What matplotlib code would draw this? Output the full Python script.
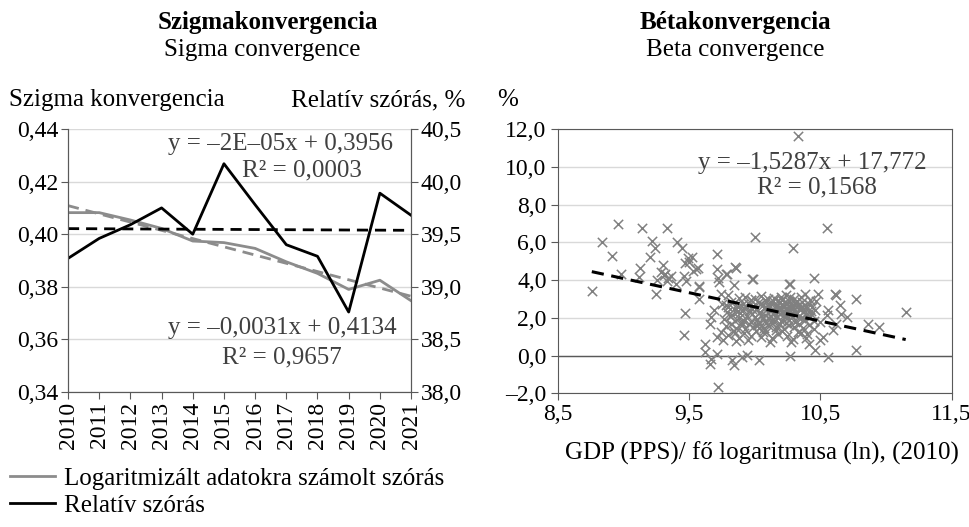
import numpy as np
import matplotlib
matplotlib.use("Agg")
import matplotlib.pyplot as plt
from matplotlib.ticker import FuncFormatter

plt.rcParams['font.family'] = ['Liberation Serif', 'DejaVu Serif']

# --- sigma convergence data ---
years = [2010, 2011, 2012, 2013, 2014, 2015, 2016, 2017, 2018, 2019, 2020, 2021]
log_std = [0.4082, 0.4082, 0.4054, 0.4022, 0.3974, 0.3968, 0.3946, 0.3895, 0.3851, 0.3790, 0.3825, 0.3747]
rel_std = [39.27, 39.46, 39.59, 39.75, 39.50, 40.17, 39.78, 39.40, 39.29, 38.76, 39.89, 39.68]

# --- beta convergence data (estimated from the scatter) ---
gdp_ln = [
    8.76, 8.84, 8.91, 8.96, 8.98, 9.14, 9.13, 9.12, 9.22, 9.20, 9.24, 9.25, 9.26, 9.33, 9.30, 9.29,
    9.31, 9.32, 9.34, 9.36, 9.33, 9.41, 9.45, 9.40, 9.46, 9.47, 9.49, 9.50, 9.52, 9.53, 9.55, 9.57,
    9.58, 9.58, 9.47, 9.46, 9.48, 9.71, 9.71, 9.73, 9.78, 9.86, 9.84, 10.00, 9.99, 10.33, 10.29, 10.27,
    10.55, 10.45, 10.62, 10.77, 10.86, 10.95, 11.15, 10.77, 10.56, 10.27, 10.03, 9.94, 9.90, 9.83,
    9.84, 9.72, 9.67, 9.66, 9.62, 9.62, 9.71, 9.76, 9.71, 9.74, 9.66, 9.67, 9.69, 9.75, 9.74, 9.72,
    9.79, 9.85, 9.98, 9.58,
    10.26, 10.48, 10.61, 10.65, 10.66, 10.70, 10.56, 10.55, 10.50, 10.62, 10.60, 10.52, 10.45, 10.40,
    10.33, 10.29, 10.28, 10.41, 10.50, 10.46,
    9.88, 9.93, 9.97, 10.05, 10.10, 10.15, 10.20, 10.24, 10.30, 10.35, 10.38, 10.42, 9.80, 10.00, 10.18, 10.27,
    9.78, 9.82, 9.87, 9.91, 9.95, 9.99, 10.03, 10.06, 10.09, 10.12, 10.14, 10.17, 10.19, 10.22, 10.24, 10.26,
    10.28, 10.31, 10.33, 10.36, 10.39, 10.41, 10.44, 10.47, 10.08, 10.21,
    9.79, 9.84, 9.89, 9.92, 9.96, 9.98, 10.01, 10.04, 10.07, 10.10, 10.13, 10.16, 10.18, 10.20, 10.23, 10.25,
    10.27, 10.29, 10.32, 10.34, 10.37, 10.40, 10.43, 10.46, 10.11, 10.22, 10.30, 10.19,
    9.77, 9.81, 9.85, 9.88, 9.91, 9.94, 9.97, 10.00, 10.02, 10.05, 10.08, 10.11, 10.14, 10.17, 10.20, 10.23,
    10.26, 10.28, 10.31, 10.35, 10.38, 10.42, 10.45, 10.15, 10.06, 10.25,
    9.78, 9.82, 9.86, 9.90, 9.93, 9.96, 9.99, 10.03, 10.07, 10.10, 10.13, 10.16, 10.19, 10.22, 10.26, 10.30,
    10.34, 10.37, 10.41, 10.24,
    9.80, 9.84, 9.88, 9.92, 9.97, 10.01, 10.05, 10.09, 10.13, 10.18, 10.21, 10.25, 10.35, 10.39,
    9.86, 9.95, 10.12,
    9.80, 9.83, 9.87, 9.90, 9.94, 9.98, 10.02, 10.04, 10.08, 10.12, 10.15, 10.18, 10.21, 10.24, 10.27, 10.30,
    10.33, 10.36, 10.39, 10.43, 9.85, 9.91, 9.97, 10.03, 10.09, 10.14, 10.19, 10.23, 10.28, 10.32,
    10.36, 10.40, 10.06, 10.16, 10.26,
]
growth = [
    3.45, 6.03, 5.29, 6.96, 4.30, 6.74, 4.62, 4.15, 6.09, 5.24, 5.68, 3.26, 4.00, 6.74, 4.80, 4.45,
    4.25, 4.35, 4.10, 4.20, 3.95, 6.03, 5.68, 3.80, 4.20, 4.90, 5.20, 4.95, 5.25, 4.50, 4.60, 4.65,
    3.70, 3.00, 2.28, 1.08, 3.95, 5.38, 4.60, 3.91, 4.35, 4.67, 3.73, 6.27, 4.06, 11.65, 5.68, 3.80,
    6.74, 4.12, 3.20, 3.00, 1.70, 1.50, 2.30, 0.30, -0.05, 0.00, -0.25, 0.02, -0.07, -0.25,
    -0.51, -1.67, -0.16, -0.42, 0.20, 0.64, 0.10, 0.81, 0.99, 1.25, 1.70, 2.05, 2.40, 2.76, 3.29, 4.09,
    4.35, 4.70, 4.04, 3.64,
    3.82, 3.29, 3.24, 2.67, 2.23, 2.05, 2.41, 2.14, 1.78, 1.70, 1.34, 0.99, 1.43, 1.17,
    1.25, 0.90, 0.72, 0.64, 0.81, 0.28,
    3.05, 3.10, 2.95, 3.15, 3.00, 3.05, 3.10, 3.20, 3.00, 3.10, 3.25, 2.95, 3.20, 2.98, 2.92, 3.12,
    2.70, 2.85, 2.60, 2.75, 2.80, 2.65, 2.85, 2.70, 2.60, 2.80, 2.90, 2.70, 2.85, 2.65, 2.75, 2.90,
    2.60, 2.80, 2.70, 2.85, 2.65, 2.75, 2.60, 2.90, 2.95, 2.95,
    2.30, 2.45, 2.25, 2.50, 2.35, 2.20, 2.45, 2.30, 2.50, 2.25, 2.40, 2.55, 2.30, 2.45, 2.20, 2.50,
    2.35, 2.55, 2.25, 2.45, 2.30, 2.50, 2.20, 2.40, 2.55, 2.35, 2.40, 2.20,
    1.95, 2.10, 1.85, 2.00, 1.90, 2.10, 1.80, 2.05, 1.90, 2.15, 1.85, 2.00, 1.95, 2.10, 1.85, 2.05,
    1.90, 2.15, 1.80, 2.00, 1.90, 2.05, 1.85, 1.80, 2.00, 2.00,
    1.55, 1.70, 1.45, 1.60, 1.40, 1.65, 1.50, 1.70, 1.45, 1.60, 1.75, 1.50, 1.65, 1.40, 1.60, 1.50,
    1.70, 1.45, 1.60, 1.75,
    1.10, 1.30, 0.95, 1.20, 1.05, 1.30, 1.00, 1.25, 0.95, 1.15, 1.30, 1.05, 1.20, 0.95,
    0.75, 0.85, 0.70,
    2.60, 2.15, 2.35, 1.75, 2.60, 2.45, 1.60, 2.75, 2.15, 2.65, 2.30, 2.50, 2.70, 2.40, 2.15, 2.70,
    2.05, 2.50, 2.20, 2.35, 1.20, 2.40, 2.95, 1.45, 1.75, 2.20, 2.60, 2.85, 2.45, 2.90,
    2.55, 2.15, 1.25, 1.35, 2.65,
]

GRAY = '#8c8c8c'
GRID = '#d9d9d9'
SPINE = '#595959'
TXT = '#404040'
FS = 18       # titles, labels, legend
FS_TICK = 17  # tick labels


def comma(fmt):
    return FuncFormatter(lambda v, p: (fmt % v).replace('.', ',').replace('-', '–'))


fig = plt.figure(figsize=(9.69, 5.27), dpi=100)

# ---------------- left: sigma convergence ----------------
ax = fig.add_axes([0.0702, 0.2562, 0.354, 0.499])
ax2 = ax.twinx()

ax.set_xlim(2010, 2021)
ax.set_ylim(0.34, 0.44)
ax2.set_ylim(38.0, 40.5)
ax.set_yticks(np.arange(0.34, 0.4401, 0.02))
ax2.set_yticks(np.arange(38.0, 40.51, 0.5))
ax.yaxis.set_major_formatter(comma('%.2f'))
ax2.yaxis.set_major_formatter(comma('%.1f'))
ax.set_xticks(years)
ax.set_xticklabels([str(y) for y in years], rotation=90)
ax.grid(axis='y', color=GRID, lw=1)
ax.set_axisbelow(True)

for a in (ax, ax2):
    a.spines['top'].set_visible(False)
    for s in ('left', 'right', 'bottom'):
        a.spines[s].set_color(SPINE)
    a.tick_params(labelsize=FS_TICK, color=SPINE, length=5, pad=2)

xs = np.arange(1, len(years) + 1)
ln_log, = ax.plot(years, log_std, color=GRAY, lw=2)
c1 = np.polyfit(xs, log_std, 1)
ax.plot(years, np.polyval(c1, xs), color=GRAY, lw=2, ls=(0, (4, 2.5)))

ln_rel, = ax2.plot(years, rel_std, color='black', lw=2)
c2 = np.polyfit(xs, rel_std, 1)
ax2.plot(years, np.polyval(c2, xs), color='black', lw=2, ls=(0, (4, 2.5)))

fig.text(280 / 969, 1 - 144 / 527, 'y = –2E–05x + 0,3956', fontsize=FS, ha='center', va='center', color=TXT)
fig.text(302 / 969, 1 - 170 / 527, 'R² = 0,0003', fontsize=FS, ha='center', va='center', color=TXT)
fig.text(282 / 969, 1 - 328 / 527, 'y = –0,0031x + 0,4134', fontsize=FS, ha='center', va='center', color=TXT)
fig.text(282 / 969, 1 - 357 / 527, 'R² = 0,9657', fontsize=FS, ha='center', va='center', color=TXT)

fig.text(268 / 969, 1 - 22 / 527, 'Szigmakonvergencia', fontsize=FS, fontweight='bold', ha='center', va='center')
fig.text(262 / 969, 1 - 50 / 527, 'Sigma convergence', fontsize=FS, ha='center', va='center')
fig.text(9 / 969, 1 - 100 / 527, 'Szigma konvergencia', fontsize=FS, ha='left', va='center')
fig.text(465 / 969, 1 - 100 / 527, 'Relatív szórás, %', fontsize=FS, ha='right', va='center')

fig.legend([ln_log, ln_rel], ['Logaritmizált adatokra számolt szórás', 'Relatív szórás'],
           loc='upper left', bbox_to_anchor=(0.0, 1 - 457 / 527), frameon=False,
           fontsize=FS, handlelength=1.8, handletextpad=0.35, labelspacing=0.2, borderaxespad=0)

# ---------------- right: beta convergence ----------------
bx = fig.add_axes([0.5755, 0.2537, 0.4066, 0.501])
bx.set_xlim(8.5, 11.5)
bx.set_ylim(-2, 12)
bx.set_xticks([8.5, 9.5, 10.5, 11.5])
bx.set_yticks(np.arange(-2, 12.1, 2))
bx.xaxis.set_major_formatter(comma('%.1f'))
bx.yaxis.set_major_formatter(comma('%.1f'))
bx.grid(axis='y', color=GRID, lw=1)
bx.set_axisbelow(True)
for s in bx.spines.values():
    s.set_color(SPINE)
bx.tick_params(labelsize=FS_TICK, color=SPINE, length=5, pad=3)
bx.axhline(0, color=SPINE, lw=1)

bx.scatter(gdp_ln, growth, marker='x', s=45, color='#808080', linewidths=1.1, zorder=3)
c3 = np.polyfit(gdp_ln, growth, 1)
tx = np.array([min(gdp_ln), max(gdp_ln)])
bx.plot(tx, np.polyval(c3, tx), color='black', lw=2.2, ls=(0, (4, 2.5)), zorder=4)

fig.text(812 / 969, 1 - 163 / 527, 'y = –1,5287x + 17,772', fontsize=FS, ha='center', va='center', color=TXT)
fig.text(817 / 969, 1 - 187 / 527, 'R² = 0,1568', fontsize=FS, ha='center', va='center', color=TXT)

fig.text(735 / 969, 1 - 22 / 527, 'Bétakonvergencia', fontsize=FS, fontweight='bold', ha='center', va='center')
fig.text(735 / 969, 1 - 50 / 527, 'Beta convergence', fontsize=FS, ha='center', va='center')
fig.text(497 / 969, 1 - 100 / 527, '%', fontsize=FS, ha='left', va='center')
fig.text(762 / 969, 1 - 453 / 527, 'GDP (PPS)/ fő logaritmusa (ln), (2010)', fontsize=FS, ha='center', va='center')

fig.savefig('out.png', dpi=100)
